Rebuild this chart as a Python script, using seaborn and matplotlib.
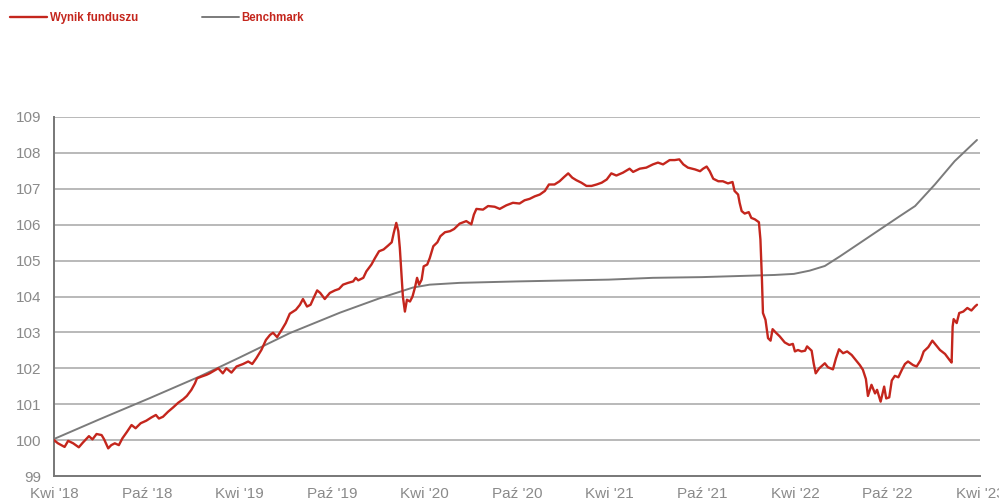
import matplotlib
matplotlib.use('Agg')
import matplotlib.pyplot as plt
import seaborn as sns
import pandas as pd

# fund result vs benchmark, index = 100 at start
FUND_DATES = [
    '2018-04-01', '2018-04-09', '2018-04-22', '2018-04-29', '2018-05-09', '2018-05-20',
    '2018-05-28', '2018-06-09', '2018-06-16', '2018-06-24', '2018-07-04', '2018-07-09',
    '2018-07-17', '2018-07-23', '2018-07-30', '2018-08-07', '2018-08-14', '2018-08-23',
    '2018-09-01', '2018-09-09', '2018-09-19', '2018-09-30', '2018-10-10', '2018-10-19',
    '2018-10-25', '2018-11-02', '2018-11-12', '2018-11-22', '2018-12-02', '2018-12-12',
    '2018-12-19', '2018-12-28', '2019-01-04', '2019-01-08', '2019-01-17', '2019-01-27',
    '2019-02-02', '2019-02-19', '2019-02-28', '2019-03-07', '2019-03-17', '2019-03-27',
    '2019-04-09', '2019-04-19', '2019-04-27', '2019-05-05', '2019-05-15', '2019-05-24',
    '2019-06-01', '2019-06-07', '2019-06-15', '2019-06-24', '2019-07-02', '2019-07-10',
    '2019-07-22', '2019-07-30', '2019-08-05', '2019-08-13', '2019-08-20', '2019-08-26',
    '2019-09-02', '2019-09-08', '2019-09-17', '2019-09-27', '2019-10-07', '2019-10-15',
    '2019-10-23', '2019-11-02', '2019-11-12', '2019-11-17', '2019-11-22', '2019-12-02',
    '2019-12-08', '2019-12-18', '2019-12-25', '2020-01-02', '2020-01-11', '2020-01-20',
    '2020-01-27', '2020-01-31', '2020-02-05', '2020-02-09', '2020-02-12', '2020-02-15',
    '2020-02-18', '2020-02-22', '2020-02-26', '2020-03-03', '2020-03-08', '2020-03-13',
    '2020-03-17', '2020-03-21', '2020-03-26', '2020-03-30', '2020-04-06', '2020-04-11',
    '2020-04-18', '2020-04-26', '2020-05-02', '2020-05-11', '2020-05-21', '2020-05-29',
    '2020-06-09', '2020-06-22', '2020-07-02', '2020-07-07', '2020-07-12', '2020-07-25',
    '2020-08-04', '2020-08-17', '2020-08-27', '2020-09-09', '2020-09-22', '2020-10-05',
    '2020-10-15', '2020-10-25', '2020-11-04', '2020-11-14', '2020-11-24', '2020-12-02',
    '2020-12-13', '2020-12-23', '2021-01-01', '2021-01-09', '2021-01-17', '2021-01-25',
    '2021-02-04', '2021-02-14', '2021-02-24', '2021-03-06', '2021-03-16', '2021-03-26',
    '2021-04-04', '2021-04-14', '2021-04-27', '2021-05-10', '2021-05-17', '2021-05-30',
    '2021-06-12', '2021-06-25', '2021-07-05', '2021-07-15', '2021-07-28', '2021-08-07',
    '2021-08-16', '2021-08-24', '2021-09-02', '2021-09-16', '2021-09-26', '2021-10-02',
    '2021-10-09', '2021-10-15', '2021-10-22', '2021-11-01', '2021-11-10', '2021-11-20',
    '2021-11-29', '2021-12-03', '2021-12-10', '2021-12-13', '2021-12-17', '2021-12-23',
    '2021-12-31', '2022-01-05', '2022-01-12', '2022-01-20', '2022-01-23', '2022-01-26',
    '2022-01-28', '2022-02-02', '2022-02-07', '2022-02-12', '2022-02-16', '2022-02-22',
    '2022-03-02', '2022-03-12', '2022-03-21', '2022-03-28', '2022-04-01', '2022-04-07',
    '2022-04-14', '2022-04-21', '2022-04-25', '2022-05-04', '2022-05-08', '2022-05-12',
    '2022-05-19', '2022-05-30', '2022-06-05', '2022-06-15', '2022-06-21', '2022-06-27',
    '2022-07-05', '2022-07-13', '2022-07-22', '2022-07-30', '2022-08-07', '2022-08-13',
    '2022-08-19', '2022-08-23', '2022-08-30', '2022-09-06', '2022-09-10', '2022-09-17',
    '2022-09-24', '2022-09-28', '2022-10-04', '2022-10-09', '2022-10-15', '2022-10-22',
    '2022-10-29', '2022-11-04', '2022-11-10', '2022-11-20', '2022-11-27', '2022-12-05',
    '2022-12-11', '2022-12-20', '2022-12-28', '2023-01-04', '2023-01-12', '2023-01-22',
    '2023-01-31', '2023-02-04', '2023-02-06', '2023-02-08', '2023-02-14', '2023-02-19',
    '2023-02-27', '2023-03-07', '2023-03-15', '2023-03-22', '2023-03-26',
]
FUND_VALUES = [
    100.00, 99.91, 99.81, 99.98, 99.91, 99.80,
    99.93, 100.11, 100.02, 100.17, 100.14, 100.02,
    99.77, 99.86, 99.91, 99.86, 100.05, 100.23,
    100.42, 100.33, 100.47, 100.54, 100.63, 100.70,
    100.60, 100.65, 100.79, 100.91, 101.04, 101.14,
    101.23, 101.40, 101.58, 101.72, 101.77, 101.82,
    101.86, 102.00, 101.86, 102.00, 101.88, 102.05,
    102.12, 102.19, 102.12, 102.28, 102.51, 102.79,
    102.93, 102.99, 102.87, 103.07, 103.26, 103.52,
    103.63, 103.77, 103.93, 103.72, 103.77, 103.96,
    104.17, 104.10, 103.93, 104.10, 104.17, 104.21,
    104.33, 104.38, 104.42, 104.52, 104.45, 104.52,
    104.70, 104.89, 105.07, 105.26, 105.31, 105.42,
    105.51, 105.77, 106.05, 105.82, 105.35, 104.66,
    104.00, 103.58, 103.91, 103.86, 104.00, 104.26,
    104.52, 104.33, 104.47, 104.84, 104.89, 105.07,
    105.40, 105.51, 105.68, 105.79, 105.82, 105.88,
    106.03, 106.10, 106.01, 106.28, 106.44, 106.42,
    106.52, 106.50, 106.44, 106.54, 106.61, 106.59,
    106.68, 106.72, 106.79, 106.84, 106.94, 107.12,
    107.12, 107.21, 107.33, 107.43, 107.31, 107.24,
    107.17, 107.08, 107.08, 107.12, 107.17, 107.26,
    107.43, 107.37, 107.45, 107.56, 107.47, 107.56,
    107.59, 107.68, 107.73, 107.68, 107.80, 107.80,
    107.82, 107.68, 107.59, 107.54, 107.49, 107.56,
    107.62, 107.49, 107.28, 107.21, 107.21, 107.15,
    107.19, 106.94, 106.84, 106.61, 106.38, 106.31,
    106.35, 106.19, 106.15, 106.07, 105.59, 104.47,
    103.54, 103.35, 102.84, 102.77, 103.09, 103.00,
    102.89, 102.72, 102.65, 102.68, 102.47, 102.51,
    102.47, 102.49, 102.61, 102.49, 102.14, 101.86,
    102.00, 102.14, 102.03, 101.97, 102.28, 102.53,
    102.42, 102.47, 102.37, 102.23, 102.09, 101.96,
    101.70, 101.23, 101.54, 101.30, 101.40, 101.07,
    101.49, 101.16, 101.19, 101.66, 101.79, 101.75,
    101.96, 102.12, 102.19, 102.09, 102.05, 102.23,
    102.47, 102.59, 102.77, 102.65, 102.51, 102.40,
    102.23, 102.16, 103.16, 103.37, 103.26, 103.54,
    103.58, 103.68, 103.61, 103.72, 103.77,
]

BENCH_DATES = [
    '2018-04-01', '2018-06-30', '2018-10-07', '2019-01-13', '2019-04-02', '2019-07-10',
    '2019-10-17', '2020-01-03', '2020-03-09', '2020-04-11', '2020-06-09', '2020-09-30',
    '2021-03-30', '2021-06-25', '2021-09-30', '2021-11-16', '2022-02-20', '2022-03-30',
    '2022-04-30', '2022-05-30', '2022-06-29', '2022-08-07', '2022-09-16', '2022-10-25',
    '2022-11-24', '2023-01-02', '2023-02-10', '2023-03-26',
]
BENCH_VALUES = [
    100.03, 100.58, 101.17, 101.77, 102.30, 102.98,
    103.55, 103.95, 104.25, 104.33, 104.38, 104.42,
    104.47, 104.52, 104.54, 104.56, 104.60, 104.63,
    104.72, 104.85, 105.12, 105.49, 105.87, 106.24,
    106.52, 107.12, 107.77, 108.36,
]

TICK_DATES = ['2018-04-01', '2018-10-01', '2019-04-01', '2019-10-01', '2020-04-01', '2020-10-01',
              '2021-04-01', '2021-10-01', '2022-04-01', '2022-10-01', '2023-04-01']
TICK_LABELS = ["Kwi '18", "Paź '18", "Kwi '19", "Paź '19", "Kwi '20", "Paź '20",
               "Kwi '21", "Paź '21", "Kwi '22", "Paź '22", "Kwi '23"]
Y_TICKS = list(range(99, 110))

RED = '#c4261d'
GREY = '#7b7b7b'

fund = pd.DataFrame({'date': pd.to_datetime(FUND_DATES), 'value': FUND_VALUES})
bench = pd.DataFrame({'date': pd.to_datetime(BENCH_DATES), 'value': BENCH_VALUES})

sns.set_style('white')
plt.rcParams['font.family'] = ['Liberation Sans', 'DejaVu Sans']

fig = plt.figure(figsize=(9.99, 5.0), dpi=100)
ax = fig.add_axes([0.054, 0.048, 0.927, 0.718])

for y in Y_TICKS[1:]:
    ax.axhline(y, color='#a6a6a6', lw=1.1, zorder=0)

sns.lineplot(data=bench, x='date', y='value', color=GREY, lw=1.4,
             estimator=None, ax=ax, label='Benchmark', zorder=2)
sns.lineplot(data=fund, x='date', y='value', color=RED, lw=1.7,
             estimator=None, ax=ax, label='Wynik funduszu', zorder=3)

ax.set_xlim(pd.Timestamp(TICK_DATES[0]), pd.Timestamp(TICK_DATES[-1]))
ax.set_ylim(99, 109)
ax.set_xticks(pd.to_datetime(TICK_DATES))
ax.set_xticklabels(TICK_LABELS)
ax.set_yticks(Y_TICKS)
ax.set_xlabel('')
ax.set_ylabel('')

for side in ['top', 'right']:
    ax.spines[side].set_visible(False)
for side in ['left', 'bottom']:
    ax.spines[side].set_color('#777777')
    ax.spines[side].set_linewidth(1.4)

ax.tick_params(axis='both', direction='out', length=6, width=1.2, color='#777777',
               labelcolor='#8a8a8a', labelsize=11)
ax.tick_params(axis='x', pad=2)
ax.tick_params(axis='y', pad=3)

# one small legend per series across the top, fund first
handles, labels = ax.get_legend_handles_labels()
ax.get_legend().remove()
legend_font = {'family': ['Liberation Sans Narrow', 'Liberation Sans'], 'weight': 'bold', 'size': 8.3}
for name, x0 in [('Wynik funduszu', 0.010), ('Benchmark', 0.202)]:
    i = labels.index(name)
    leg = fig.legend([handles[i]], [name], loc='center left', bbox_to_anchor=(x0, 0.964),
                     frameon=False, borderpad=0, borderaxespad=0,
                     handlelength=3.2, handletextpad=0.26, prop=legend_font)
    leg.get_texts()[0].set_color(RED)

fig.savefig('out.png', dpi=100)
